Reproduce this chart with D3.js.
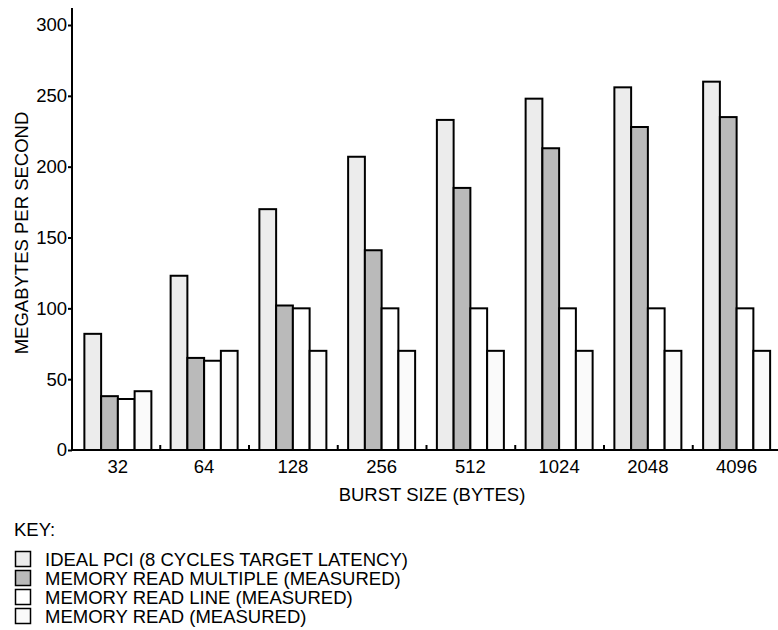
<!DOCTYPE html>
<html>
<head>
<meta charset="utf-8">
<script src="https://cdn.jsdelivr.net/npm/d3@7"></script>
<style>
  body { margin: 0; background: #fff; }
  svg { display: block; font-family: "Liberation Sans", Arial, sans-serif; }
</style>
</head>
<body>
<svg id="chart" width="778" height="630"></svg>
<script>
var burstSizes = ["32", "64", "128", "256", "512", "1024", "2048", "4096"];
var seriesNames = ["IDEAL PCI (8 CYCLES TARGET LATENCY)", "MEMORY READ MULTIPLE (MEASURED)",
                   "MEMORY READ LINE (MEASURED)", "MEMORY READ (MEASURED)"];
var idealPci      = [82, 123, 170, 207, 233, 248, 256, 260];
var readMultiple  = [38, 65, 102, 141, 185, 213, 228, 235];
var readLine      = [36, 63, 100, 100, 100, 100, 100, 100];
var memRead       = [41.5, 70, 70, 70, 70, 70, 70, 70];
var yTicks = [0, 50, 100, 150, 200, 250, 300];
var fills = ["#ececec", "#bababa", "#ffffff", "#fafafa"];

var allSeries = [idealPci, readMultiple, readLine, memRead];
var fs = 18.5;

var svg = d3.select("#chart");
var x0 = 72, x1 = 782, yBase = 450;

var x = d3.scaleBand().domain(burstSizes).range([x0, x1]).paddingInner(0).paddingOuter(0);
var xs = d3.scaleBand().domain(d3.range(4)).range([0, 67]);
var y = d3.scaleLinear().domain([0, 300]).range([yBase, 25]);

var g = svg.append("g");

// bars (first group sits a little further right in the original)
var groups = g.selectAll("g.grp")
  .data(burstSizes)
  .enter().append("g")
    .attr("class", "grp")
    .attr("transform", function(d, i) {
      return "translate(" + (x(d) + x.bandwidth()/2 - 33.5 - 1 + (i == 0 ? 2.5 : 0)) + ",0)";
    });

groups.selectAll("rect")
  .data(function(d, i) { return allSeries.map(function(s, k) { return {k: k, v: s[i]}; }); })
  .enter().append("rect")
    .attr("x", function(d) { return xs(d.k); })
    .attr("width", xs.bandwidth())
    .attr("y", function(d) { return y(d.v); })
    .attr("height", function(d) { return yBase - y(d.v); })
    .attr("fill", function(d) { return fills[d.k]; })
    .attr("stroke", "#000")
    .attr("stroke-width", 2);

// y axis
var yAxis = g.append("g")
  .attr("transform", "translate(" + x0 + ",0)")
  .call(d3.axisLeft(y).tickValues(yTicks).tickSize(4).tickPadding(1));
yAxis.select(".domain").remove();
yAxis.append("line").attr("x1", 0).attr("x2", 0).attr("y1", 8).attr("y2", yBase + 1)
  .attr("stroke", "#000").attr("stroke-width", 2);
yAxis.selectAll(".tick line").attr("stroke-width", 2);
yAxis.selectAll(".tick text").attr("font-size", fs).attr("fill", "#000")
  .attr("font-family", "Liberation Sans, Arial, sans-serif");

// x axis: line, ticks between groups, labels at centers
var xAxis = g.append("g").attr("transform", "translate(0," + yBase + ")");
xAxis.append("line").attr("x1", x0).attr("x2", 778).attr("y1", 0).attr("y2", 0)
  .attr("stroke", "#000").attr("stroke-width", 2);
xAxis.selectAll("line.sep")
  .data(burstSizes.slice(1))
  .enter().append("line")
    .attr("class", "sep")
    .attr("x1", function(d) { return x(d) - 0.5; })
    .attr("x2", function(d) { return x(d) - 0.5; })
    .attr("y1", 0).attr("y2", -5)
    .attr("stroke", "#000").attr("stroke-width", 2);
xAxis.selectAll("text.lbl")
  .data(burstSizes)
  .enter().append("text")
    .attr("class", "lbl")
    .attr("x", function(d, i) { return x(d) + x.bandwidth()/2 - 1 + (i == 0 ? 2.5 : 0); })
    .attr("y", 23)
    .attr("text-anchor", "middle")
    .attr("font-size", fs)
    .text(function(d) { return d; });

// axis titles
svg.append("text")
  .attr("x", 432).attr("y", 501)
  .attr("text-anchor", "middle").attr("font-size", fs)
  .text("BURST SIZE (BYTES)");
svg.append("text")
  .attr("transform", "translate(28,233) rotate(-90)")
  .attr("text-anchor", "middle").attr("font-size", fs)
  .text("MEGABYTES PER SECOND");

// key
svg.append("text").attr("x", 14).attr("y", 536).attr("font-size", fs).text("KEY:");
var key = svg.selectAll("g.key")
  .data(seriesNames)
  .enter().append("g")
    .attr("class", "key")
    .attr("transform", function(d, i) { return "translate(0," + (559 + i * 19) + ")"; });
key.append("rect")
  .attr("x", 15.5).attr("y", -7.5).attr("width", 15).attr("height", 15)
  .attr("fill", function(d, i) { return fills[i]; })
  .attr("stroke", "#000").attr("stroke-width", 1.5);
key.append("text")
  .attr("x", 45).attr("y", 6.6).attr("font-size", fs)
  .text(function(d) { return d; });
</script>
</body>
</html>
